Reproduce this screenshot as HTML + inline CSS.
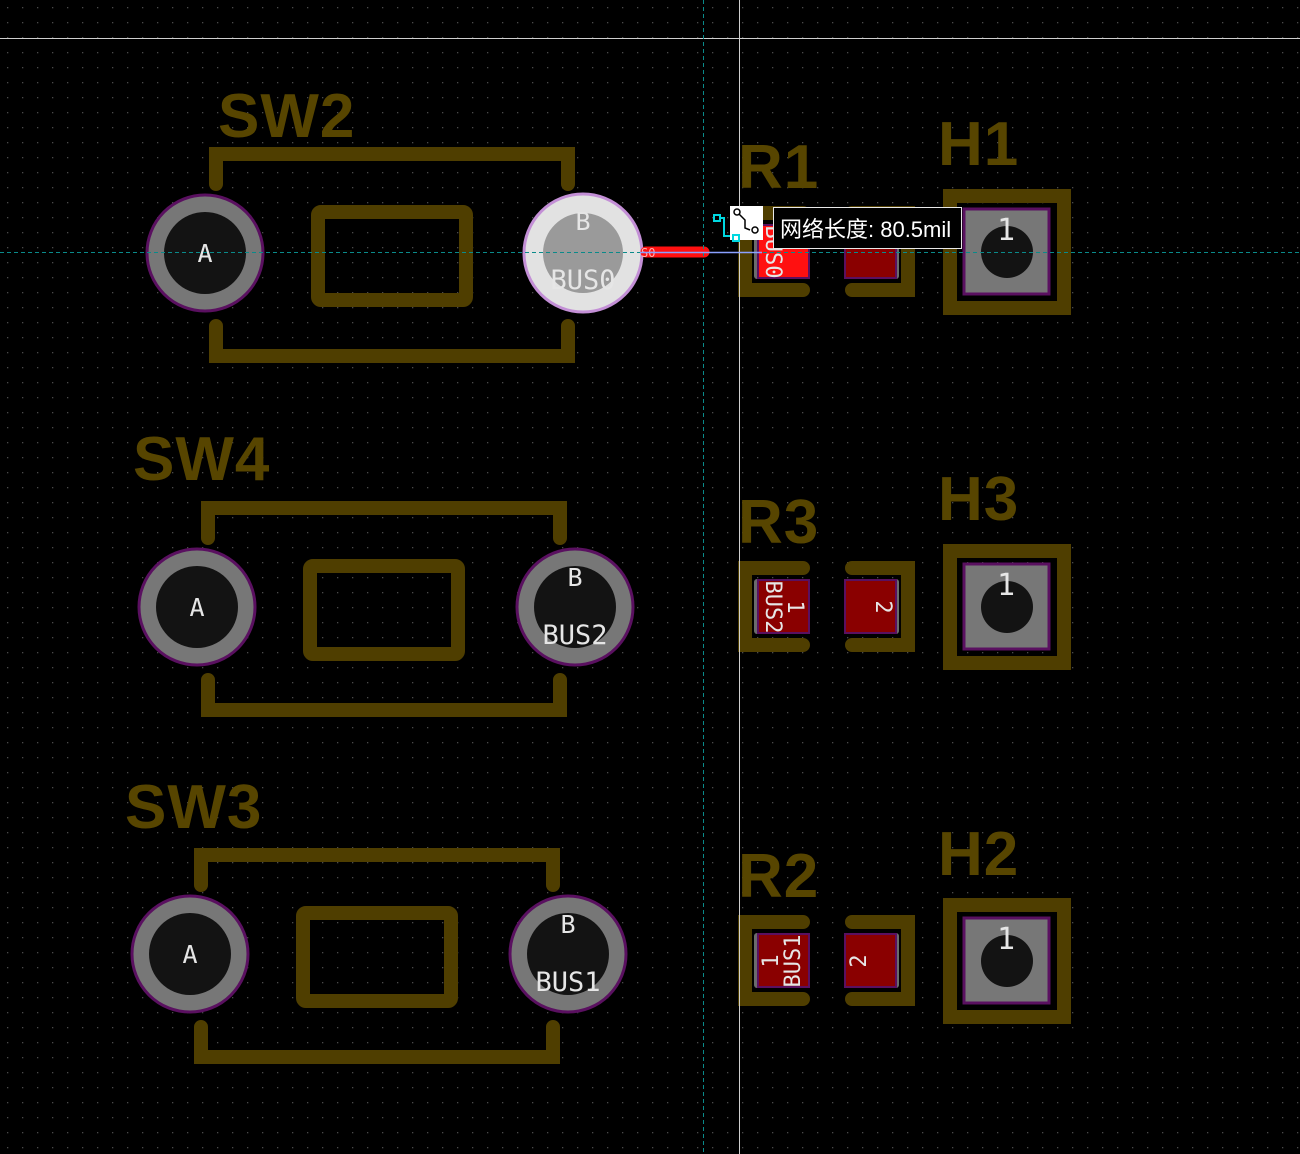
<!DOCTYPE html>
<html><head><meta charset="utf-8"><style>
html,body{margin:0;padding:0;background:#000;}
svg{display:block}
.sk{stroke:#4f3e00;stroke-width:14;stroke-linecap:round;fill:none}
.ref{font-family:"Liberation Sans",sans-serif;font-weight:bold;font-size:62px;fill:#574500;letter-spacing:1px}
.pt{font-family:"DejaVu Sans Mono","Liberation Mono",monospace;fill:#e6e6e6}
</style></head><body>
<svg width="1300" height="1154" viewBox="0 0 1300 1154" xmlns="http://www.w3.org/2000/svg">
<defs>
<pattern id="g" x="0" y="0" width="15" height="15" patternUnits="userSpaceOnUse">
<rect x="7" y="7" width="1.3" height="1.3" fill="#4a4a4a"/>
</pattern>
<g id="sw">
 <polyline class="sk" points="0,30 0,0 352,0 352,30"/>
 <polyline class="sk" points="0,172 0,202 352,202 352,172"/>
 <rect class="sk" x="102" y="58" width="148" height="88" rx="3"/>
 <circle cx="-11" cy="99" r="58" fill="#777" stroke="#5a1060" stroke-width="3"/>
 <circle cx="-11" cy="99" r="41" fill="#131313"/>
 <text class="pt" x="-11" y="108" font-size="25" text-anchor="middle">A</text>
</g>
</defs>
<rect width="1300" height="1154" fill="#000"/>
<rect width="1300" height="1154" fill="url(#g)"/>

<!-- SW2 -->
<text class="ref" x="218" y="137">SW2</text>
<use href="#sw" x="216" y="154"/>
<circle cx="583" cy="253" r="59" fill="#e2e2e2" stroke="#c38fd6" stroke-width="3"/>
<circle cx="583" cy="253" r="40" fill="#9a9a9a"/>
<text class="pt" x="583" y="230" font-size="25" text-anchor="middle">B</text>
<text class="pt" x="583" y="289" font-size="27" text-anchor="middle" fill="#f0f0f0">BUS0</text>
<line x1="646" y1="252" x2="704" y2="252" stroke="#ff1010" stroke-width="11" stroke-linecap="round"/>
<text x="641" y="257" font-family="DejaVu Sans Mono,monospace" font-size="12" fill="#ffb0b0">S0</text>

<!-- SW4 -->
<text class="ref" x="133" y="480">SW4</text>
<use href="#sw" x="208" y="508"/>
<circle cx="575" cy="607" r="58" fill="#777" stroke="#5a1060" stroke-width="3"/>
<circle cx="575" cy="607" r="41" fill="#131313"/>
<text class="pt" x="575" y="586" font-size="25" text-anchor="middle">B</text>
<text class="pt" x="575" y="644" font-size="27" text-anchor="middle">BUS2</text>

<!-- SW3 -->
<text class="ref" x="125" y="828">SW3</text>
<use href="#sw" x="201" y="855"/>
<circle cx="568" cy="954" r="58" fill="#777" stroke="#5a1060" stroke-width="3"/>
<circle cx="568" cy="954" r="41" fill="#131313"/>
<text class="pt" x="568" y="933" font-size="25" text-anchor="middle">B</text>
<text class="pt" x="568" y="991" font-size="27" text-anchor="middle">BUS1</text>

<!-- R/H blocks -->
<g id="rh">
 <polyline class="sk" points="803,568 745,568 745,645 803,645"/>
 <polyline class="sk" points="852,568 908,568 908,645 852,645"/>
 <rect x="754" y="579" width="55" height="55" rx="3" fill="#6b6b6b"/>
 <rect x="758" y="580" width="51" height="53" fill="#8a0000" stroke="#5a1060" stroke-width="2"/>
 <rect x="844" y="579" width="55" height="55" rx="3" fill="#6b6b6b"/>
 <rect x="845" y="580" width="51" height="53" fill="#8a0000" stroke="#5a1060" stroke-width="2"/>
 <rect class="sk" x="950" y="551" width="114" height="112"/>
 <rect x="964" y="564" width="85" height="85" fill="#777" stroke="#5a1060" stroke-width="3"/>
 <circle cx="1007" cy="607" r="26" fill="#131313"/>
 <text class="pt" x="1006" y="595" font-size="30" text-anchor="middle">1</text>
</g>
<text class="ref" x="738" y="543">R3</text>
<text class="ref" x="938" y="520">H3</text>
<text class="pt" font-size="22" transform="translate(788,607) rotate(90)" text-anchor="middle">1</text>
<text class="pt" font-size="22" transform="translate(766,607) rotate(90)" text-anchor="middle">BUS2</text>
<text class="pt" font-size="22" transform="translate(876,607) rotate(90)" text-anchor="middle">2</text>

<use href="#rh" x="0" y="-355"/>
<rect x="758" y="225" width="51" height="53" fill="#ff1010" stroke="#5a1060" stroke-width="2"/>
<text class="ref" x="738" y="188">R1</text>
<text class="ref" x="938" y="165">H1</text>
<text class="pt" font-size="22" transform="translate(766,252) rotate(90)" text-anchor="middle" fill="#ffd0d0">BUS0</text>

<use href="#rh" x="0" y="354"/>
<text class="ref" x="738" y="897">R2</text>
<text class="ref" x="938" y="875">H2</text>
<text class="pt" font-size="22" transform="translate(778,961) rotate(-90)" text-anchor="middle">1</text>
<text class="pt" font-size="22" transform="translate(800,961) rotate(-90)" text-anchor="middle">BUS1</text>
<text class="pt" font-size="22" transform="translate(866,961) rotate(-90)" text-anchor="middle">2</text>

<!-- crosshair -->
<line x1="0" y1="38.5" x2="1300" y2="38.5" stroke="#cfcfcf" stroke-width="1"/>
<line x1="739.5" y1="0" x2="739.5" y2="1154" stroke="#cfcfcf" stroke-width="1"/>
<line x1="703.5" y1="0" x2="703.5" y2="1154" stroke="#0a8a8a" stroke-width="1" stroke-dasharray="4,3"/>
<line x1="0" y1="252.5" x2="1300" y2="252.5" stroke="#0a8a8a" stroke-width="1" stroke-dasharray="4,3"/>
<line x1="640" y1="252.5" x2="762" y2="252.5" stroke="#8aa0ff" stroke-width="1.5"/>

<!-- icon + tooltip -->
<rect x="714" y="215" width="6" height="6" fill="none" stroke="#00d8e0" stroke-width="2"/>
<polyline points="720,218 724,218 724,236 733,236" fill="none" stroke="#00d8e0" stroke-width="2"/>
<rect x="730" y="206" width="33" height="34" fill="#fff"/>
<rect x="733" y="235" width="6" height="6" fill="none" stroke="#00d8e0" stroke-width="2"/>
<circle cx="737" cy="212" r="3" fill="none" stroke="#000" stroke-width="1.5"/>
<polyline points="739,214 745,220 745,228 750,230" fill="none" stroke="#000" stroke-width="1.5"/>
<circle cx="755" cy="230" r="3" fill="none" stroke="#000" stroke-width="1.5"/>
<rect x="773.5" y="207.5" width="188" height="41" fill="#000" stroke="#e8e8e8" stroke-width="1"/>
<text x="780" y="237" font-family="'Liberation Sans','Noto Sans CJK SC',sans-serif" font-size="22" fill="#fff">网络长度: 80.5mil</text>
</svg>
</body></html>
